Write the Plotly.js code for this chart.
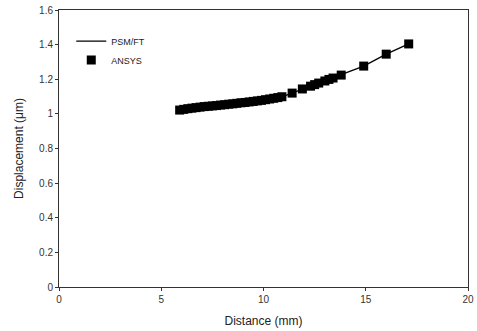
<!DOCTYPE html>
<html>
<head>
<meta charset="utf-8">
<script src="https://cdn.plot.ly/plotly-3.0.1.min.js"></script>
<style>html,body{margin:0;padding:0;background:#fff;}#chart{width:477px;height:331px;}</style>
</head>
<body>
<div id="chart"></div>
<script>
// PSM/FT curve
const psmX = [5.9, 7.0, 8.0, 9.0, 10.0, 11.0, 12.0, 13.0, 13.8, 14.9, 16.0, 17.1];
const psmY = [1.022, 1.040, 1.053, 1.065, 1.079, 1.102, 1.146, 1.190, 1.224, 1.276, 1.345, 1.404];
// ANSYS points
const ansysX = [5.9, 6.1, 6.3, 6.5, 6.7, 6.9, 7.1, 7.3, 7.5, 7.7, 7.9, 8.1, 8.3, 8.5, 8.7, 8.9, 9.1, 9.3, 9.5, 9.7, 9.9, 10.1, 10.3, 10.5, 10.7, 10.9, 11.4, 11.9, 12.3, 12.5, 12.7, 13.0, 13.2, 13.4, 13.8, 14.9, 16.0, 17.1];
const ansysY = [1.022, 1.026, 1.030, 1.033, 1.036, 1.039, 1.042, 1.044, 1.046, 1.048, 1.051, 1.053, 1.056, 1.058, 1.061, 1.064, 1.066, 1.069, 1.072, 1.075, 1.078, 1.082, 1.086, 1.090, 1.094, 1.099, 1.120, 1.144, 1.160, 1.169, 1.178, 1.190, 1.199, 1.207, 1.224, 1.276, 1.345, 1.404];
const xTicks = [0, 5, 10, 15, 20];
const yTicks = [0, 0.2, 0.4, 0.6, 0.8, 1, 1.2, 1.4, 1.6];

const traces = [
  {x: psmX, y: psmY, mode: 'lines', name: 'PSM/FT', line: {color: '#000', width: 1.3}},
  {x: ansysX, y: ansysY, mode: 'markers', name: 'ANSYS', marker: {symbol: 'square', size: 9, color: '#000'}}
];
const layout = {
  width: 477, height: 331,
  margin: {l: 59, r: 9, t: 10, b: 44},
  paper_bgcolor: '#fff', plot_bgcolor: '#fff',
  font: {family: 'Liberation Sans, Arial, sans-serif', color: '#222'},
  showlegend: true,
  legend: {x: 0.03, y: 0.94, xanchor: 'left', yanchor: 'top', bgcolor: 'rgba(0,0,0,0)',
           font: {size: 9, color: '#222'}, tracegroupgap: 2, itemwidth: 30},
  xaxis: {range: [0, 20], tickvals: xTicks, ticktext: xTicks.map(String), showgrid: false, zeroline: false,
          showline: true, mirror: true, linecolor: '#333', linewidth: 1,
          ticks: 'outside', ticklen: 3, tickcolor: '#333', tickfont: {size: 10, color: '#333'},
          title: {text: 'Distance (mm)', font: {size: 12, color: '#222'}, standoff: 12}},
  yaxis: {range: [0, 1.6], tickvals: yTicks, ticktext: yTicks.map(String), showgrid: false, zeroline: false,
          showline: true, mirror: true, linecolor: '#333', linewidth: 1,
          ticks: 'outside', ticklen: 3, tickcolor: '#333', tickfont: {size: 10, color: '#333'},
          title: {text: 'Displacement (μm)', font: {size: 12, color: '#222'}, standoff: 12}}
};
Plotly.newPlot('chart', traces, layout, {staticPlot: true, displayModeBar: false});
</script>
</body>
</html>
